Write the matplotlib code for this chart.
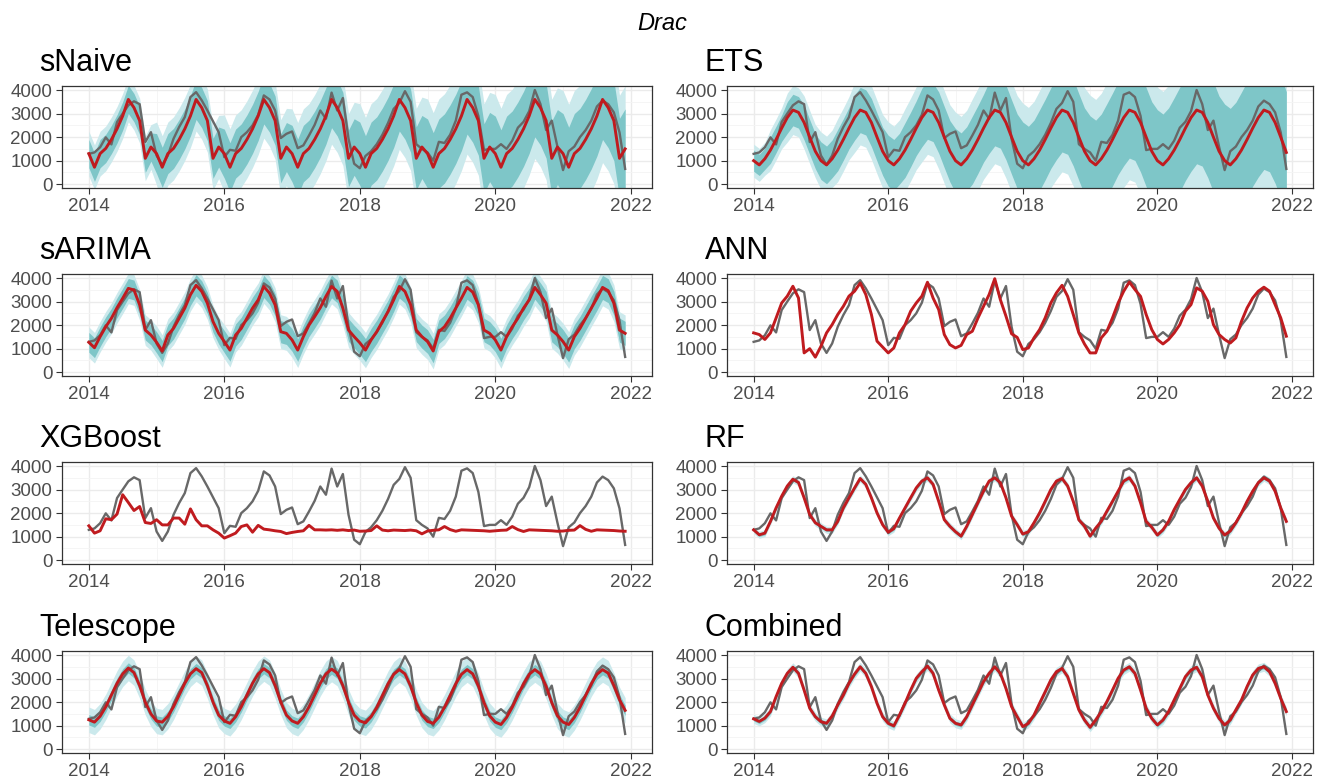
import numpy as np
import matplotlib
matplotlib.use("Agg")
import matplotlib.pyplot as plt

# monthly observations, Jan 2014 .. Dec 2021
actual = [
    1290, 1350, 1570, 1990, 1690, 2640, 3000, 3350, 3520, 3400, 1790, 2210,
    1220, 820, 1220, 1930, 2430, 2850, 3700, 3910, 3560, 3130, 2670, 2210,
    1150, 1460, 1420, 2000, 2210, 2500, 2950, 3770, 3600, 3130, 1960, 2140,
    2240, 1530, 1650, 2070, 2520, 3130, 2780, 3890, 3130, 3660, 1930, 870,
    680, 1200, 1400, 1700, 2100, 2600, 3200, 3450, 3950, 3500, 1700, 1500,
    1350, 1000, 1800, 1750, 2100, 2700, 3800, 3900, 3700, 2900, 1450, 1500,
    1500, 1700, 1500, 1850, 2400, 2650, 3100, 4000, 3400, 2300, 2700, 1600,
    600, 1400, 1600, 2000, 2300, 2700, 3300, 3550, 3400, 3050, 2200, 650,
]

snaive_fc = [
    1300, 720, 1300, 1520, 1900, 2350, 2900, 3600, 3250, 2700, 1100, 1580,
    1300, 720, 1300, 1520, 1900, 2350, 2900, 3600, 3250, 2700, 1100, 1580,
    1300, 720, 1300, 1520, 1900, 2350, 2900, 3600, 3250, 2700, 1100, 1580,
    1300, 720, 1300, 1520, 1900, 2350, 2900, 3600, 3250, 2700, 1100, 1580,
    1300, 720, 1300, 1520, 1900, 2350, 2900, 3600, 3250, 2700, 1100, 1580,
    1300, 720, 1300, 1520, 1900, 2350, 2900, 3600, 3250, 2700, 1100, 1580,
    1300, 720, 1300, 1520, 1900, 2350, 2900, 3600, 3250, 2700, 1100, 1580,
    1300, 720, 1300, 1520, 1900, 2350, 2900, 3600, 3250, 2700, 1100, 1500,
]
ets_fc = [
    1000, 820, 1080, 1450, 1900, 2380, 2830, 3150, 3050, 2620, 2000, 1400,
    1000, 820, 1080, 1450, 1900, 2380, 2830, 3150, 3050, 2620, 2000, 1400,
    1000, 820, 1080, 1450, 1900, 2380, 2830, 3150, 3050, 2620, 2000, 1400,
    1000, 820, 1080, 1450, 1900, 2380, 2830, 3150, 3050, 2620, 2000, 1400,
    1000, 820, 1080, 1450, 1900, 2380, 2830, 3150, 3050, 2620, 2000, 1400,
    1000, 820, 1080, 1450, 1900, 2380, 2830, 3150, 3050, 2620, 2000, 1400,
    1000, 820, 1080, 1450, 1900, 2380, 2830, 3150, 3050, 2620, 2000, 1400,
    1000, 820, 1080, 1450, 1900, 2380, 2830, 3150, 3050, 2620, 2000, 1350,
]
sarima_fc = [
    1270, 1040, 1510, 1930, 2290, 2740, 3140, 3560, 3490, 2860, 1790, 1580,
    1270, 900, 1580, 1860, 2290, 2720, 3290, 3690, 3430, 2930, 2150, 1650,
    1300, 940, 1580, 1860, 2290, 2720, 3070, 3640, 3360, 2860, 1720, 1650,
    1370, 940, 1510, 2000, 2360, 2740, 3220, 3640, 3430, 2720, 1790, 1510,
    1250, 940, 1370, 1720, 2150, 2570, 3070, 3640, 3430, 2860, 1790, 1510,
    1300, 900, 1720, 1930, 2290, 2720, 3140, 3600, 3400, 2860, 1790, 1650,
    1370, 940, 1510, 1930, 2290, 2720, 3070, 3600, 3290, 2930, 1790, 1580,
    1300, 940, 1510, 1860, 2290, 2720, 3140, 3600, 3460, 2930, 1790, 1650,
]
ann_fc = [
    1670, 1600, 1390, 1670, 2300, 2940, 3230, 3650, 3150, 820, 1000, 640,
    1100, 1670, 2020, 2450, 2800, 3230, 3440, 3790, 3300, 2450, 1320, 1070,
    820, 1030, 1670, 2020, 2590, 2940, 3230, 3820, 3150, 2660, 1600, 1170,
    1030, 1140, 1600, 1740, 2300, 2800, 3300, 3970, 3080, 2380, 1630, 1480,
    960, 1030, 1460, 1810, 2310, 2940, 3370, 3690, 3220, 2450, 1670, 1200,
    820, 820, 1460, 1740, 2310, 2940, 3440, 3830, 3510, 3220, 2450, 1810,
    1390, 1200, 1390, 1670, 2020, 2590, 2870, 3580, 3440, 3010, 2020, 1600,
    1390, 1240, 1460, 2160, 2730, 3150, 3440, 3610, 3440, 2870, 2310, 1530,
]
xgb_fc = [
    1460, 1150, 1250, 1760, 1720, 1960, 2780, 2450, 2110, 2280, 1600, 1560,
    1720, 1500, 1500, 1790, 1790, 1530, 2180, 1720, 1460, 1460, 1290, 1150,
    940, 1040, 1150, 1430, 1500, 1190, 1480, 1320, 1290, 1250, 1220, 1130,
    1180, 1220, 1250, 1480, 1290, 1290, 1280, 1290, 1270, 1290, 1260, 1280,
    1230, 1240, 1260, 1460, 1280, 1250, 1280, 1270, 1260, 1280, 1250, 1120,
    1240, 1270, 1290, 1430, 1300, 1230, 1290, 1280, 1270, 1260, 1250, 1230,
    1250, 1270, 1280, 1430, 1300, 1220, 1290, 1280, 1270, 1260, 1250, 1230,
    1240, 1270, 1280, 1470, 1310, 1230, 1290, 1280, 1270, 1260, 1240, 1230,
]
rf_fc = [
    1290, 1080, 1150, 1650, 2220, 2720, 3150, 3440, 3300, 2650, 1940, 1590,
    1440, 1290, 1290, 1650, 2220, 2650, 3070, 3470, 3220, 2650, 2010, 1510,
    1190, 1340, 1790, 2220, 2650, 3070, 3360, 3500, 3220, 2500, 1720, 1440,
    1210, 1020, 1440, 1940, 2440, 2930, 3360, 3500, 3290, 2650, 1870, 1510,
    1110, 1210, 1590, 2010, 2500, 3000, 3360, 3470, 3150, 2500, 1720, 1440,
    1020, 1360, 1650, 2080, 2500, 2930, 3360, 3500, 3150, 2440, 1650, 1400,
    1070, 1290, 1650, 2150, 2580, 3000, 3290, 3500, 3150, 2500, 1790, 1360,
    1070, 1240, 1590, 2010, 2500, 2930, 3290, 3500, 3360, 2930, 2220, 1650,
]
telescope_fc = [
    1250, 1150, 1400, 1800, 2300, 2800, 3200, 3450, 3250, 2700, 2000, 1500,
    1200, 1150, 1400, 1800, 2300, 2800, 3200, 3420, 3250, 2700, 2000, 1450,
    1200, 1100, 1380, 1800, 2300, 2800, 3200, 3420, 3250, 2700, 2000, 1450,
    1200, 1100, 1380, 1800, 2300, 2800, 3200, 3400, 3230, 2700, 2000, 1450,
    1200, 1120, 1380, 1780, 2280, 2780, 3180, 3380, 3200, 2680, 1980, 1450,
    1180, 1100, 1360, 1780, 2280, 2780, 3180, 3380, 3200, 2680, 1980, 1420,
    1150, 1050, 1350, 1780, 2280, 2780, 3180, 3380, 3200, 2680, 1980, 1420,
    1150, 1050, 1350, 1780, 2280, 2780, 3180, 3380, 3230, 2700, 2100, 1650,
]
combined_fc = [
    1290, 1180, 1320, 1600, 2230, 2800, 3220, 3480, 3220, 2510, 1740, 1380,
    1170, 1100, 1410, 1880, 2300, 2800, 3190, 3500, 3220, 2660, 1950, 1380,
    1100, 990, 1450, 1950, 2510, 3010, 3290, 3530, 3220, 2510, 1880, 1310,
    1100, 1030, 1380, 1880, 2370, 2870, 3220, 3500, 3220, 2580, 1810, 1380,
    960, 1100, 1450, 1950, 2440, 2940, 3290, 3430, 3080, 2370, 1670, 1240,
    930, 1240, 1600, 2020, 2510, 3010, 3360, 3500, 3220, 2510, 1740, 1310,
    1030, 1240, 1600, 2090, 2580, 3080, 3360, 3480, 3080, 2300, 1740, 1310,
    1030, 1240, 1670, 2090, 2660, 3150, 3430, 3500, 3290, 2800, 2160, 1600,
]

# interval half-widths (80% / 95%), one value per forecast year 2014..2021
snaive_w80 = [600, 850, 1040, 1200, 1340, 1470, 1590, 1700]
snaive_w95 = [950, 1340, 1640, 1900, 2120, 2320, 2510, 2680]
# ETS intervals grow smoothly, so one value per quarter
ets_w80 = [450, 560, 670, 740, 800, 880, 960, 1020, 1080, 1160, 1240, 1300,
           1360, 1440, 1520, 1580, 1640, 1710, 1780, 1840, 1900, 1970, 2040, 2100,
           2160, 2220, 2280, 2340, 2400, 2460, 2520, 2580]
ets_w95 = [700, 870, 1040, 1130, 1220, 1340, 1480, 1560, 1650, 1760, 1880, 1970,
           2060, 2170, 2280, 2360, 2440, 2530, 2620, 2700, 2780, 2870, 2960, 3040,
           3120, 3200, 3280, 3360, 3440, 3520, 3600, 3680]
sarima_w80 = [420, 450, 470, 480, 490, 500, 500, 510]
sarima_w95 = [650, 690, 720, 740, 750, 760, 770, 780]
telescope_w80 = [220, 220, 220, 220, 220, 220, 220, 220]
telescope_w95 = [540, 540, 540, 540, 540, 540, 540, 540]
rf_w80 = [70, 70, 70, 70, 70, 70, 70, 70]
rf_w95 = [150, 150, 150, 150, 150, 150, 150, 150]
combined_w80 = [90, 90, 90, 90, 90, 90, 90, 90]
combined_w95 = [190, 190, 190, 190, 190, 190, 190, 190]

years = [2014, 2016, 2018, 2020, 2022]

DARK = "#7ec6c8"
LIGHT = "#cbe9ec"
RED = "#c01b1f"
GREY = "#686868"


def monthly(w):
    w = np.asarray(w, float)
    return np.repeat(w, 96 // len(w))


panels = [
    ("sNaive", snaive_fc, snaive_w80, snaive_w95),
    ("ETS", ets_fc, ets_w80, ets_w95),
    ("sARIMA", sarima_fc, sarima_w80, sarima_w95),
    ("ANN", ann_fc, None, None),
    ("XGBoost", xgb_fc, None, None),
    ("RF", rf_fc, rf_w80, rf_w95),
    ("Telescope", telescope_fc, telescope_w80, telescope_w95),
    ("Combined", combined_fc, combined_w80, combined_w95),
]

t = 2014 + np.arange(96) / 12.0
W, H = 1324, 780
fig = plt.figure(figsize=(W / 100, H / 100), dpi=100)
fig.text(662 / W, 1 - 23 / H, "Drac", ha="center", va="center",
         fontsize=17, style="italic", family="Liberation Sans")

col_x = [(62, 652), (727, 1313)]
row_y = [86, 274, 462, 651]
ph = 102

for k, (name, fc, w80, w95) in enumerate(panels):
    r, c = divmod(k, 2)
    x0, x1 = col_x[c]
    y0 = row_y[r]
    ax = fig.add_axes([x0 / W, 1 - (y0 + ph) / H, (x1 - x0) / W, ph / H])
    fc = np.asarray(fc, float)
    if w80 is not None:
        a, b = monthly(w80), monthly(w95)
        ax.fill_between(t, fc - b, fc + b, color=LIGHT, lw=0, zorder=2)
        ax.fill_between(t, fc - a, fc + a, color=DARK, lw=0, zorder=3)
    ax.plot(t, actual, color=GREY, lw=1.7, zorder=4)
    ax.plot(t, fc, color=RED, lw=2.1, zorder=5)

    ax.set_xlim(2013.604, 2022.313)
    ax.set_ylim(-160, 4170)
    ax.set_xticks(years)
    ax.set_xticks([2015, 2017, 2019, 2021], minor=True)
    ax.set_yticks([0, 1000, 2000, 3000, 4000])
    ax.set_yticks([500, 1500, 2500, 3500], minor=True)
    ax.grid(True, which="major", color="#ebebeb", lw=1.0, zorder=0)
    ax.grid(True, which="minor", color="#f4f4f4", lw=0.6, zorder=0)
    ax.set_axisbelow(True)
    ax.tick_params(which="major", length=4, color="#333333", labelsize=13.5,
                   labelcolor="#4d4d4d", pad=3)
    ax.tick_params(which="minor", length=0)
    for lab in ax.get_xticklabels() + ax.get_yticklabels():
        lab.set_family("Liberation Sans")
    for s in ax.spines.values():
        s.set_color("#333333")
        s.set_linewidth(0.9)
        s.set_zorder(6)
    ax.text(-0.038, 1.08, name, transform=ax.transAxes, ha="left", va="bottom",
            fontsize=22, family="Liberation Sans")

fig.savefig("out.png", dpi=100)
